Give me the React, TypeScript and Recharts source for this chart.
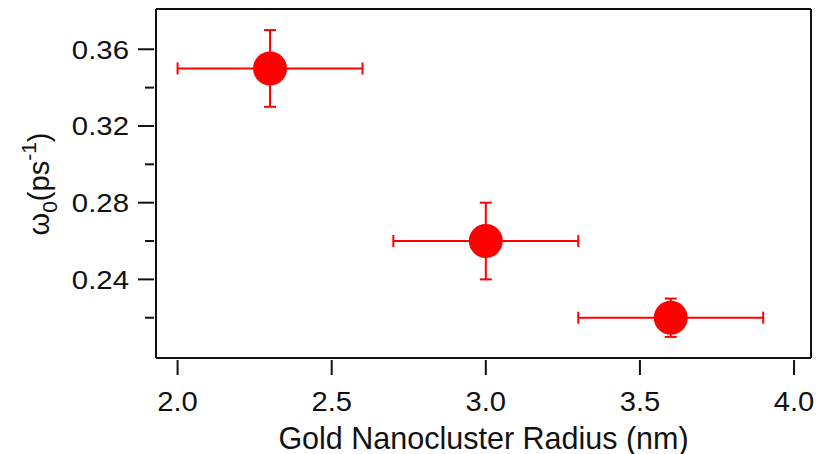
import React from 'react';
import { ScatterChart, Scatter, XAxis, YAxis, ErrorBar, ReferenceLine } from 'recharts';

const radius = [2.3, 3.0, 3.6];
const radiusErr = [0.3, 0.3, 0.3];
const omega = [0.35, 0.26, 0.22];
const omegaErr = [0.02, 0.02, 0.01];

const xTicks = [2.0, 2.5, 3.0, 3.5, 4.0];
const yMajorTicks = [0.24, 0.28, 0.32, 0.36];
const yMinorTicks = [0.22, 0.26, 0.3, 0.34];

const xDomain = [1.93, 4.055];
const yDomain = [0.199, 0.381];

const data = radius.map((r, i) => ({ x: r, ex: radiusErr[i], y: omega[i], ey: omegaErr[i] }));
const yTicks = [...yMajorTicks, ...yMinorTicks].sort((a, b) => a - b);

const FONT = 'Liberation Sans, Arial, sans-serif';
const AXIS = '#111';

const XTick = (props: any) => {
  const { x, y, payload } = props;
  return (
    <g>
      <line x1={x} y1={y} x2={x} y2={y + 15} stroke={AXIS} strokeWidth={2} />
      <text transform={`translate(${x},${y + 51}) scale(1.08,1)`} textAnchor="middle" fontSize={27} fontFamily={FONT} fill="#111">
        {Number(payload.value).toFixed(1)}
      </text>
    </g>
  );
};

const YTick = (props: any) => {
  const { x, y, payload } = props;
  const major = yMajorTicks.some((t) => Math.abs(t - payload.value) < 1e-6);
  return (
    <g>
      <line x1={x - (major ? 16 : 9)} y1={y} x2={x} y2={y} stroke={AXIS} strokeWidth={2} />
      {major && (
        <text transform={`translate(${x - 25},${y}) scale(1.13,1)`} dy="0.36em" textAnchor="end" fontSize={26} fontFamily={FONT} fill="#111">
          {Number(payload.value).toFixed(2)}
        </text>
      )}
    </g>
  );
};

const Dot = (props: any) => <circle cx={props.cx} cy={props.cy} r={17} fill="#ff0000" />;

const YLabel = () => (
  <text transform="translate(49,184) rotate(-90)" textAnchor="middle" fontSize={29} fontFamily={FONT} fill="#111">
    ω<tspan dy={8} fontSize={21}>0</tspan>
    <tspan dy={-8}>(ps</tspan>
    <tspan dy={-13} fontSize={21}>-1</tspan>
    <tspan dy={13}>)</tspan>
  </text>
);

export default function App() {
  return (
    <div style={{ position: 'absolute', left: 0, top: 0 }}>
      <ScatterChart width={816} height={454} margin={{ top: 9, right: 5, bottom: 0, left: 0 }}>
        <XAxis
          type="number"
          dataKey="x"
          domain={xDomain}
          ticks={xTicks}
          tick={<XTick />}
          tickSize={0}
          tickLine={false}
          height={96}
          axisLine={{ stroke: AXIS, strokeWidth: 2 }}
          allowDataOverflow
          label={{ value: 'Gold Nanocluster Radius (nm)', position: 'insideBottom', offset: 5, fontSize: 30.5, fontFamily: FONT, fill: '#111' }}
        />
        <YAxis
          type="number"
          dataKey="y"
          domain={yDomain}
          ticks={yTicks}
          tick={<YTick />}
          tickSize={0}
          tickLine={false}
          width={156}
          axisLine={{ stroke: AXIS, strokeWidth: 2 }}
          allowDataOverflow
          label={<YLabel />}
        />
        <ReferenceLine y={yDomain[1]} stroke={AXIS} strokeWidth={2} ifOverflow="extendDomain" />
        <ReferenceLine x={xDomain[1]} stroke={AXIS} strokeWidth={2} ifOverflow="extendDomain" />
        <Scatter data={data} fill="#ff0000" shape={<Dot />} isAnimationActive={false}>
          <ErrorBar dataKey="ex" direction="x" width={6} stroke="#ff0000" strokeWidth={2} isAnimationActive={false} />
          <ErrorBar dataKey="ey" direction="y" width={6} stroke="#ff0000" strokeWidth={2} isAnimationActive={false} />
        </Scatter>
      </ScatterChart>
    </div>
  );
}
